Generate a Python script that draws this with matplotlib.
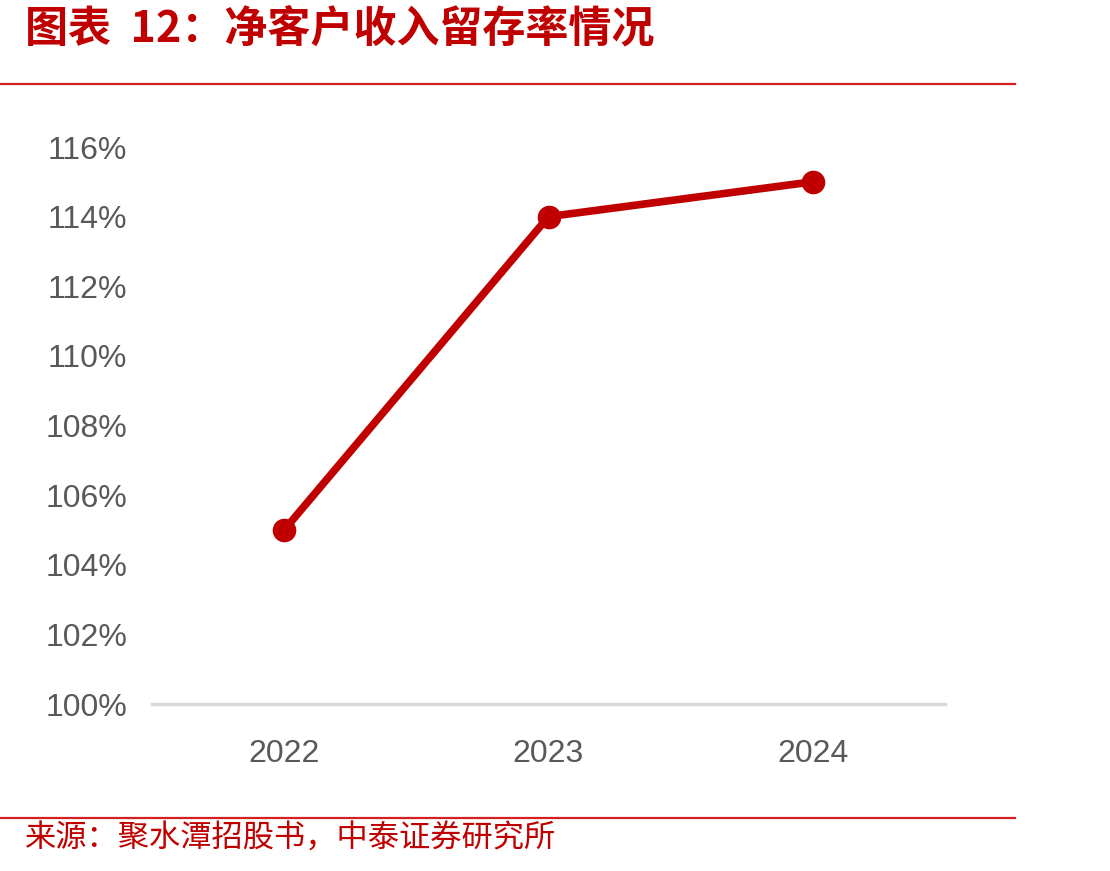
import matplotlib.pyplot as plt
from matplotlib.lines import Line2D
from matplotlib.ticker import FuncFormatter

plt.rcParams['font.family'] = ['Liberation Sans', 'DejaVu Sans']

# data
years = ['2022', '2023', '2024']
retention = [105, 114, 115]  # 净客户收入留存率 (%)
yticks = [100, 102, 104, 106, 108, 110, 112, 114, 116]

W, H = 1110, 871
fig = plt.figure(figsize=(W / 100, H / 100), dpi=100)
ax = fig.add_axes([152 / W, (H - 704) / H, (945 - 152) / W, (704 - 147) / H])

x = range(len(years))
ax.plot(x, retention, color='#C00000', lw=5.5, marker='o', ms=16,
        solid_capstyle='round', zorder=3, clip_on=False)

ax.set_xlim(-0.5, len(years) - 0.5)
ax.set_ylim(100, 116)
ax.set_xticks(list(x))
ax.set_xticklabels(years)
ax.set_yticks(yticks)
ax.yaxis.set_major_formatter(FuncFormatter(lambda v, p: f'{v:.0f}%'))

for s in ['top', 'right', 'left']:
    ax.spines[s].set_visible(False)
ax.spines['bottom'].set_color('#D9D9D9')
ax.spines['bottom'].set_linewidth(2.5)
ax.tick_params(axis='both', length=0, labelsize=23, labelcolor='#595959')
ax.tick_params(axis='y', pad=18)
ax.tick_params(axis='x', pad=25)

# title, rules and source
cjk = ['Noto Sans CJK SC', 'DejaVu Sans']
fig.text(25 / W, 1 - 28 / H, '图表  12：净客户收入留存率情况', family=cjk,
         fontsize=31, fontweight='bold', color='#C00000', va='center', ha='left')
fig.add_artist(Line2D([0, 1015 / W], [1 - 84 / H] * 2, color='#D42020', lw=1.6))
fig.add_artist(Line2D([0, 1015 / W], [1 - 818 / H] * 2, color='#D42020', lw=1.6))
fig.text(25 / W, 1 - 839 / H, '来源：聚水潭招股书，中泰证券研究所', family=cjk,
         fontsize=22.5, color='#C00000', va='center', ha='left')

fig.savefig('out.png', dpi=100)
